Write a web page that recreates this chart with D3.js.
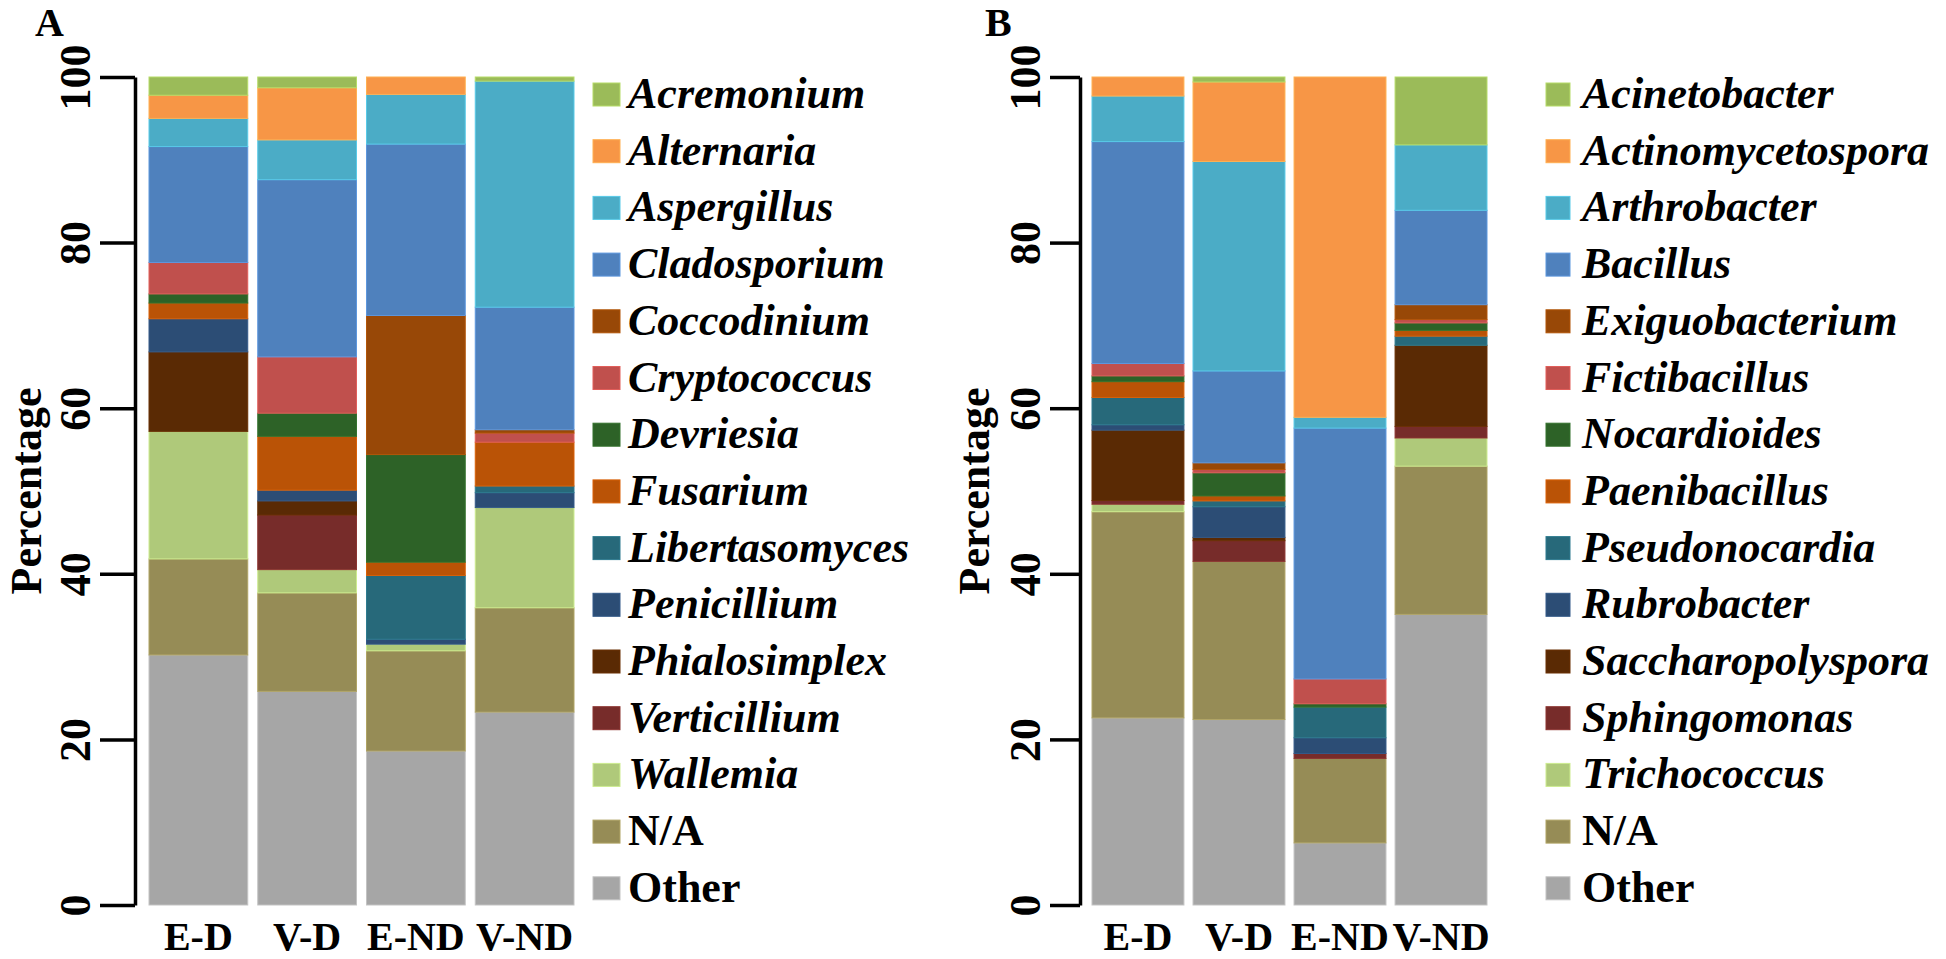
<!DOCTYPE html>
<html>
<head>
<meta charset="utf-8">
<script src="https://cdn.jsdelivr.net/npm/d3@7"></script>
<style>
  html, body { margin: 0; padding: 0; background: #fff; }
  svg { display: block; }
  text { font-family: "Liberation Serif", "Times New Roman", "DejaVu Serif", serif; font-weight: bold; fill: #000; }
</style>
</head>
<body>
<svg id="chart" width="1946" height="959"></svg>
<script>
// ---------- DATA ----------
const groups = ["E-D", "V-D", "E-ND", "V-ND"];
const yTicks = [0, 20, 40, 60, 80, 100];

// Panel A (fungi) – legend order, top to bottom
const fungiTaxa = ["Acremonium", "Alternaria", "Aspergillus", "Cladosporium", "Coccodinium",
  "Cryptococcus", "Devriesia", "Fusarium", "Libertasomyces", "Penicillium",
  "Phialosimplex", "Verticillium", "Wallemia", "N/A", "Other"];
const fungiED  = [2.2, 2.8, 3.4, 14.0, 0, 3.8, 1.1, 1.9, 0, 4.0, 9.6, 0, 15.4, 11.6, 30.2];
const fungiVD  = [1.3, 6.3, 4.8, 21.4, 0, 6.8, 2.8, 6.5, 0, 1.3, 1.7, 6.6, 2.8, 11.9, 25.8];
const fungiEND = [0, 2.1, 6.0, 20.7, 16.8, 0, 13.0, 1.6, 7.7, 0.6, 0, 0, 0.8, 12.1, 18.6];
const fungiVND = [0.5, 0, 27.3, 14.8, 0.4, 1.1, 0, 5.3, 0.8, 1.8, 0, 0, 12.1, 12.6, 23.3];

// Panel B (bacteria) – legend order, top to bottom
const bactTaxa = ["Acinetobacter", "Actinomycetospora", "Arthrobacter", "Bacillus", "Exiguobacterium",
  "Fictibacillus", "Nocardioides", "Paenibacillus", "Pseudonocardia", "Rubrobacter",
  "Saccharopolyspora", "Sphingomonas", "Trichococcus", "N/A", "Other"];
const bactED  = [0, 2.3, 5.5, 26.8, 0, 1.5, 0.7, 1.9, 3.3, 0.65, 8.5, 0.45, 0.9, 24.9, 22.6];
const bactVD  = [0.6, 9.6, 25.3, 11.1, 0.8, 0.4, 2.8, 0.6, 0.7, 3.7, 0.4, 2.5, 0, 19.1, 22.4];
const bactEND = [0, 41.1, 1.3, 30.3, 0, 3.0, 0.4, 0, 3.7, 1.9, 0, 0.6, 0, 10.2, 7.5];
const bactVND = [8.2, 0, 7.9, 11.4, 1.8, 0.4, 0.9, 0.7, 1.1, 0, 9.8, 1.4, 3.4, 17.9, 35.1];

const palette = ["#9BBB59", "#F79646", "#4BACC6", "#4F81BD", "#984807", "#C0504D", "#2D6227",
  "#BA5306", "#27697A", "#2C4D75", "#5A2A04", "#772C2A", "#AFC97A", "#968C56", "#A6A6A6"];
const plainLabels = ["N/A", "Other"];

// ---------- DRAW ----------
const svg = d3.select("#chart");
const FONT = '"Liberation Serif", "Times New Roman", "DejaVu Serif", serif';

function drawPanel(cfg) {
  const taxa = cfg.taxa;
  const rows = groups.map((g, gi) => {
    const r = { group: g };
    taxa.forEach((t, ti) => { r[t] = cfg.values[gi][ti]; });
    return r;
  });
  const color = d3.scaleOrdinal().domain(taxa).range(palette);
  const stackKeys = taxa.slice().reverse(); // "Other" at bottom
  const series = d3.stack().keys(stackKeys)(rows);

  const x = d3.scaleBand().domain(groups).range(cfg.xRange).paddingInner(cfg.padInner).paddingOuter(0);
  const y = d3.scaleLinear().domain([0, 100]).range([905, 77]);

  const g = svg.append("g");

  // bars
  g.selectAll("g.layer").data(series).join("g")
    .attr("class", "layer")
    .attr("fill", d => color(d.key))
    .attr("stroke", d => d3.color(color(d.key)).brighter(0.45))
    .attr("stroke-width", 1)
    .selectAll("rect").data(d => d.filter(p => p[1] - p[0] > 0)).join("rect")
    .attr("x", d => x(d.data.group))
    .attr("width", x.bandwidth())
    .attr("y", d => y(d[1]))
    .attr("height", d => y(d[0]) - y(d[1]));

  // y axis
  const axis = d3.axisLeft(y).tickValues(yTicks).tickSize(cfg.tickLen).tickSizeOuter(0);
  const ag = g.append("g").attr("transform", `translate(${cfg.axisX},0)`).call(axis);
  ag.attr("font-family", null).attr("font-size", null);
  ag.select(".domain").attr("stroke", "#000").attr("stroke-width", 3.5);
  ag.selectAll(".tick line").attr("stroke", "#000").attr("stroke-width", 3.5);
  ag.selectAll(".tick text")
    .attr("x", 0).attr("y", 0).attr("dy", null)
    .attr("transform", `translate(${-cfg.labelOff},0) rotate(-90)`)
    .attr("text-anchor", "middle")
    .style("font-family", FONT)
    .style("font-weight", "bold")
    .style("font-size", "44px")
    .attr("fill", "#000");

  // y title
  g.append("text")
    .attr("transform", `translate(${cfg.titleX},491) rotate(-90)`)
    .attr("text-anchor", "middle")
    .style("font-size", "44px")
    .text("Percentage");

  // x labels
  g.selectAll("text.xlab").data(groups).join("text")
    .attr("class", "xlab")
    .attr("x", d => x(d) + x.bandwidth() / 2)
    .attr("y", 950)
    .attr("text-anchor", "middle")
    .style("font-size", "40px")
    .text(d => d);

  // panel letter
  g.append("text").attr("x", cfg.letterX).attr("y", 36)
    .style("font-size", "40px").text(cfg.letter);

  // legend
  const lg = g.selectAll("g.leg").data(taxa).join("g")
    .attr("class", "leg")
    .attr("transform", (d, i) => `translate(${cfg.legX},${94.5 + i * 56.7})`);
  lg.append("rect")
    .attr("x", 0).attr("y", -11.5)
    .attr("width", cfg.swatchW).attr("height", 23)
    .attr("fill", d => color(d))
    .attr("stroke", d => d3.color(color(d)).brighter(0.45))
    .attr("stroke-width", 1);
  lg.append("text")
    .attr("x", cfg.legTextX - cfg.legX)
    .attr("y", 13.5)
    .style("font-size", "44px")
    .style("font-style", d => plainLabels.includes(d) ? "normal" : "italic")
    .text(d => d);
}

drawPanel({
  letter: "A", letterX: 35,
  taxa: fungiTaxa,
  values: [fungiED, fungiVD, fungiEND, fungiVND],
  xRange: [149, 574], padInner: 0.092,
  axisX: 135, tickLen: 35, labelOff: 45, titleX: 41,
  legX: 593, swatchW: 27, legTextX: 628
});

drawPanel({
  letter: "B", letterX: 985,
  taxa: bactTaxa,
  values: [bactED, bactVD, bactEND, bactVND],
  xRange: [1092, 1487], padInner: 0.09,
  axisX: 1080, tickLen: 30, labelOff: 40, titleX: 989,
  legX: 1546, swatchW: 24, legTextX: 1582
});
</script>
</body>
</html>
